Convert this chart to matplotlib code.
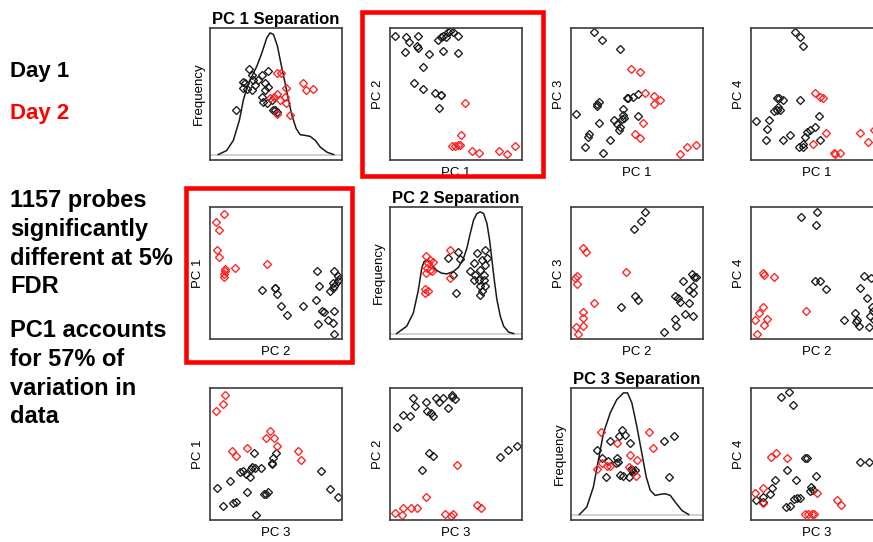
import numpy as np
import matplotlib.pyplot as plt
from matplotlib.patches import Rectangle

plt.rcParams['font.family'] = ['Liberation Sans', 'DejaVu Sans']

# Pairwise PC scores (0-100 = panel range)
# (x, y) for panel "PC a" on x, "PC b" on y
pc1_pc2_day1 = [(3.8, 94.1), (11.8, 92.9), (14.4, 89.1), (21.2, 94.1), (20.7, 86.0),
                (21.2, 84.7), (11.3, 81.9), (29.5, 80.2), (36.3, 90.6), (38.3, 93.1),
                (40.3, 94.1), (42.1, 93.1), (43.8, 96.7), (45.8, 97.5), (47.9, 96.7),
                (51.6, 93.6), (40.3, 82.7), (51.6, 80.9), (24.7, 70.7), (17.9, 58.0),
                (24.7, 53.9), (33.8, 50.9), (38.3, 49.6), (39.0, 49.1), (37.3, 39.2)]
pc1_pc2_day2 = [(56.7, 43.3), (53.9, 18.6), (47.1, 10.9), (49.1, 10.9), (51.4, 11.7),
                (53.1, 11.7), (62.2, 6.6), (67.5, 5.1), (82.4, 7.1), (88.7, 4.6),
                (95.0, 10.4)]

pc1_pc3_day1 = [(17.7, 96.9), (23.5, 90.6), (37.2, 84.0), (3.5, 35.1), (10.6, 10.2),
                (13.2, 17.3), (13.9, 19.8), (21.0, 28.0), (24.6, 5.1), (29.6, 14.8),
                (20.0, 42.2), (21.0, 44.0), (19.5, 40.7), (32.7, 30.0), (34.7, 27.5),
                (36.7, 22.9), (37.2, 24.9), (38.5, 31.3), (39.2, 33.8), (39.7, 38.9),
                (40.3, 32.1), (42.3, 47.3), (43.5, 47.1), (47.3, 47.8), (51.1, 49.9),
                (50.6, 33.1)]
pc1_pc3_day2 = [(45.6, 69.0), (51.9, 66.4), (56.2, 51.1), (62.5, 48.3), (67.1, 45.3),
                (62.5, 42.7), (54.2, 28.2), (48.6, 19.8), (51.9, 16.5), (82.8, 4.6),
                (87.8, 9.7), (94.9, 11.5)]

pc1_pc4_day1 = [(33.4, 96.9), (37.2, 92.9), (39.2, 86.5), (3.5, 29.3), (11.1, 14.8),
                (12.4, 23.7), (13.9, 30.5), (17.5, 36.9), (19.5, 38.2), (20.8, 40.2),
                (20.0, 46.6), (21.5, 47.3), (24.6, 45.3), (22.0, 38.2), (37.2, 45.3),
                (24.6, 14.8), (29.6, 19.3), (51.6, 33.1), (36.5, 9.7), (39.2, 12.2),
                (41.0, 17.3), (42.8, 21.1), (44.8, 22.9), (48.6, 24.9), (52.4, 14.8),
                (39.7, 9.7)]
pc1_pc4_day2 = [(48.6, 51.1), (52.4, 47.8), (54.4, 46.6), (47.3, 12.2), (57.0, 20.4),
                (62.5, 5.1), (63.8, 4.6), (67.1, 5.1), (82.8, 20.4), (88.6, 14.0),
                (92.9, 22.4)]

pc2_pc3_day1 = [(56.2, 96.2), (52.9, 89.4), (48.1, 83.7), (48.6, 32.9), (50.4, 29.6),
                (38.0, 24.1), (70.6, 5.0), (79.0, 15.1), (79.7, 10.1), (86.6, 18.8),
                (92.2, 17.1), (79.0, 32.7), (80.8, 30.9), (82.3, 28.4), (89.1, 27.6),
                (84.8, 44.0), (91.6, 49.2), (93.4, 47.2), (94.9, 46.7), (92.4, 40.2),
                (89.6, 37.2), (92.4, 35.2)]
pc2_pc3_day2 = [(9.4, 69.1), (11.4, 65.6), (4.8, 48.0), (3.0, 46.0), (4.8, 41.7),
                (41.8, 50.5), (17.7, 27.6), (8.9, 20.1), (9.4, 15.8), (9.4, 10.1),
                (3.8, 8.8), (5.6, 4.0)]

pc2_pc4_day1 = [(38.0, 92.5), (49.9, 96.2), (49.1, 86.7), (48.6, 44.2), (52.4, 44.2),
                (57.0, 37.7), (85.8, 47.7), (91.1, 46.0), (82.8, 38.4), (87.8, 30.9),
                (91.6, 24.6), (92.4, 20.9), (90.4, 17.1), (70.6, 14.6), (79.0, 19.6),
                (80.3, 14.6), (81.5, 10.1), (89.1, 8.8), (79.7, 12.6), (92.9, 14.6)]
pc2_pc4_day2 = [(9.4, 50.3), (9.9, 48.5), (17.7, 46.7), (9.4, 23.9), (6.3, 19.6),
                (12.4, 15.1), (3.0, 14.1), (10.1, 10.8), (4.3, 4.0), (41.8, 20.9)]

pc3_pc4_day1 = [(22.5, 92.9), (28.9, 96.9), (31.6, 87.3), (41.0, 47.1), (42.3, 46.6),
                (27.6, 37.7), (34.2, 30.0), (49.1, 33.1), (18.2, 30.0), (16.2, 24.2),
                (14.4, 19.8), (9.4, 17.3), (3.8, 14.8), (8.9, 13.5), (26.3, 9.7),
                (29.6, 10.9), (32.2, 16.0), (35.2, 16.8), (37.2, 16.8), (45.3, 24.9),
                (44.8, 21.6), (46.8, 22.4), (82.8, 44.0), (89.6, 44.0)]
pc3_pc4_day2 = [(15.2, 47.8), (19.0, 50.9), (27.1, 47.1), (8.9, 24.2), (3.0, 20.4),
                (8.9, 12.7), (49.9, 20.4), (65.1, 14.8), (68.1, 11.5), (41.0, 4.6),
                (43.5, 4.6), (46.1, 4.6), (48.1, 4.6)]

# Density curves on the diagonal (x in PC units, y = relative frequency)
pc1_curve = [(-17.2, 0), (-7.3, 0.033), (0.6, 0.116), (7.8, 0.282), (12.5, 0.448),
             (18.5, 0.586), (28.4, 0.724), (34.4, 0.834), (40.3, 0.959), (44.3, 1.0),
             (48.3, 0.986), (53.0, 0.890), (57.0, 0.751), (62.1, 0.586), (66.1, 0.448),
             (70.1, 0.323), (75.2, 0.213), (80.0, 0.163), (85.9, 0.157), (91.9, 0.149),
             (97.9, 0.116), (103.8, 0.061), (111.8, 0.019), (119.7, 0)]
pc2_curve = [(-38.1, 0), (-23.0, 0.060), (-13.0, 0.169), (-5.4, 0.360), (-0.4, 0.537),
             (3.1, 0.591), (7.1, 0.605), (14.7, 0.564), (22.2, 0.518), (29.7, 0.496),
             (37.3, 0.490), (47.3, 0.510), (54.9, 0.545), (62.4, 0.619), (67.4, 0.700),
             (72.5, 0.823), (77.5, 0.932), (82.5, 0.986), (87.5, 1.0), (92.6, 0.986),
             (97.6, 0.905), (101.6, 0.768), (105.1, 0.605), (108.6, 0.441), (112.6, 0.278),
             (117.7, 0.142), (122.7, 0.060), (130.3, 0.011), (137.8, 0)]
pc3_curve = [(-16.1, 0), (-7.3, 0.061), (0.6, 0.227), (6.6, 0.448), (12.6, 0.669),
             (20.6, 0.834), (28.5, 0.945), (36.5, 1.0), (41.3, 1.0), (46.5, 0.917),
             (52.4, 0.724), (58.4, 0.503), (63.6, 0.309), (68.4, 0.199), (74.3, 0.157),
             (80.3, 0.166), (86.3, 0.171), (92.3, 0.157), (98.2, 0.102), (106.2, 0.033),
             (114.2, 0)]

# Samples drawn over the density curves (x = PC score, y = jitter)
pc1_sep_day1 = [(19.4, 0.704), (41.5, 0.688), (11.7, 0.599), (14.5, 0.586), (12.5, 0.544),
                (17.3, 0.536), (22.5, 0.655), (24.4, 0.613), (22.5, 0.530), (26.4, 0.572),
                (30.4, 0.613), (34.4, 0.655), (38.3, 0.586), (42.3, 0.558), (38.3, 0.530),
                (34.4, 0.475), (36.4, 0.434), (40.3, 0.425), (46.3, 0.448), (3.8, 0.365),
                (47.5, 0.365), (52.2, 0.351), (50.2, 0.370)]
pc1_sep_day2 = [(53.0, 0.674), (57.0, 0.674), (83.1, 0.591), (87.1, 0.530), (95.0, 0.536),
                (63.3, 0.544), (44.3, 0.461), (48.3, 0.475), (53.0, 0.494), (56.2, 0.448),
                (62.1, 0.475), (63.3, 0.420), (53.0, 0.337), (67.3, 0.323)]
pc2_sep_day1 = [(39.8, 0.619), (53.4, 0.673), (56.4, 0.610), (47.3, 0.482), (51.4, 0.332),
                (82.5, 0.665), (95.1, 0.687), (90.1, 0.605), (97.6, 0.619), (95.1, 0.564),
                (77.5, 0.578), (72.5, 0.510), (80.0, 0.482), (87.5, 0.523), (92.6, 0.482),
                (77.5, 0.441), (85.0, 0.441), (92.6, 0.441), (87.5, 0.387), (95.1, 0.387),
                (87.5, 0.319), (90.1, 0.346)]
pc2_sep_day2 = [(6.1, 0.638), (12.2, 0.605), (9.6, 0.583), (17.2, 0.591), (7.1, 0.537),
                (12.2, 0.523), (6.1, 0.496), (14.7, 0.510), (4.6, 0.365), (9.6, 0.351),
                (4.6, 0.332), (42.3, 0.687), (42.3, 0.455)]
pc3_sep_day1 = [(34.5, 0.696), (38.5, 0.655), (31.7, 0.646), (20.6, 0.608), (43.7, 0.591),
                (5.4, 0.530), (84.3, 0.605), (97.0, 0.646), (10.6, 0.461), (18.5, 0.439),
                (29.3, 0.461), (30.5, 0.434), (27.7, 0.420), (45.3, 0.378), (50.4, 0.365),
                (48.4, 0.351), (46.5, 0.370), (32.5, 0.323), (36.5, 0.315), (42.5, 0.309),
                (15.8, 0.309), (90.3, 0.309)]
pc3_sep_day2 = [(9.4, 0.682), (67.5, 0.682), (71.1, 0.544), (28.5, 0.591), (44.5, 0.489),
                (52.4, 0.448), (10.6, 0.420), (4.6, 0.378), (16.6, 0.398), (20.6, 0.398),
                (42.5, 0.392), (51.6, 0.315)]

pairs = {(1, 2): (pc1_pc2_day1, pc1_pc2_day2),
         (1, 3): (pc1_pc3_day1, pc1_pc3_day2),
         (1, 4): (pc1_pc4_day1, pc1_pc4_day2),
         (2, 3): (pc2_pc3_day1, pc2_pc3_day2),
         (2, 4): (pc2_pc4_day1, pc2_pc4_day2),
         (3, 4): (pc3_pc4_day1, pc3_pc4_day2)}
diag = {1: (pc1_curve, pc1_sep_day1, pc1_sep_day2),
        2: (pc2_curve, pc2_sep_day1, pc2_sep_day2),
        3: (pc3_curve, pc3_sep_day1, pc3_sep_day2)}
diag_xlim = {1: (-27.1, 129.6), 2: (-48.1, 150.3), 3: (-26.1, 131.3)}

W, H = 873, 542
fig = plt.figure(figsize=(W / 100, H / 100), dpi=100)

col_left = [210, 390, 571, 751]
row_top = [28, 207, 388]
size = 132


def pts(ax, data, color, swap=False):
    a = np.array(data)
    x, y = (a[:, 1], a[:, 0]) if swap else (a[:, 0], a[:, 1])
    ax.plot(x, y, ls='none', marker='D', ms=3.8, mfc='none', mec=color, mew=0.95)


for r in range(1, 4):
    for c in range(1, 5):
        ax = fig.add_axes([col_left[c - 1] / W, 1 - (row_top[r - 1] + size) / H,
                           size / W, size / H])
        ax.set_xticks([])
        ax.set_yticks([])
        for s in ax.spines.values():
            s.set_color('#3c3c3c')
            s.set_linewidth(1.2)
        if r == c:
            curve, d1, d2 = diag[r]
            cv = np.array(curve)
            ax.axhline(0, color='#c8c8c8', lw=1.2)
            ax.plot(cv[:, 0], cv[:, 1], color='#1a1a1a', lw=1.1)
            pts(ax, d1, '#1a1a1a')
            pts(ax, d2, '#ff2020')
            ax.set_xlim(*diag_xlim[r])
            ax.set_ylim(-0.045, 1.04)
            ax.set_title(f'PC {r} Separation', fontsize=12, fontweight='bold', pad=3)
            ax.set_ylabel('Frequency', fontsize=9.5, labelpad=4)
        else:
            swap = r > c
            d1, d2 = pairs[(min(r, c), max(r, c))]
            pts(ax, d1, '#1a1a1a', swap)
            pts(ax, d2, '#ff2020', swap)
            ax.set_xlim(0, 100)
            ax.set_ylim(0, 100)
            ax.set_xlabel(f'PC {r}', fontsize=9.5, labelpad=5)
            ax.set_ylabel(f'PC {c}', fontsize=9.5, labelpad=4)

# highlighted panels
for x0, y0, x1, y1 in [(362, 12, 543, 176), (186, 188, 352, 362)]:
    fig.patches.append(Rectangle((x0 / W, 1 - y1 / H), (x1 - x0) / W, (y1 - y0) / H,
                                 transform=fig.transFigure, fill=False,
                                 edgecolor='#ff0000', lw=3.3))

fig.text(10 / W, 1 - 71 / H, 'Day 1', fontsize=16, fontweight='bold', va='center')
fig.text(10 / W, 1 - 114 / H, 'Day 2', fontsize=16, fontweight='bold', va='center',
         color='#ff0000')
fig.text(10 / W, 1 - 189 / H, '1157 probes\nsignificantly\ndifferent at 5%\nFDR',
         fontsize=17, fontweight='bold', va='top', linespacing=1.32)
fig.text(10 / W, 1 - 319 / H, 'PC1 accounts\nfor 57% of\nvariation in\ndata',
         fontsize=17, fontweight='bold', va='top', linespacing=1.32)

fig.savefig('out.png', dpi=100)
